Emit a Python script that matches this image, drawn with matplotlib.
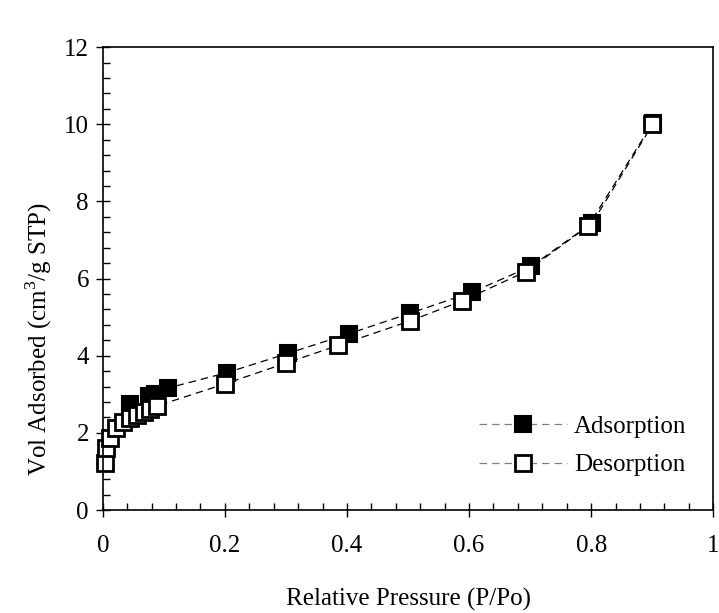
import matplotlib
matplotlib.use("Agg")
import matplotlib.pyplot as plt
from matplotlib.ticker import MultipleLocator

plt.rcParams['font.family'] = ['Liberation Serif', 'DejaVu Serif']
plt.rcParams['mathtext.fontset'] = 'custom'
plt.rcParams['mathtext.rm'] = 'Liberation Serif'

ads_x = [0.045, 0.076, 0.086, 0.106, 0.203, 0.303, 0.403, 0.503, 0.605, 0.702, 0.802, 0.902]
ads_y = [2.74, 2.96, 3.0, 3.16, 3.56, 4.06, 4.57, 5.1, 5.65, 6.32, 7.45, 10.03]

des_x = [0.003, 0.006, 0.011, 0.022, 0.033, 0.045, 0.056, 0.068, 0.078, 0.089,
         0.2, 0.3, 0.386, 0.503, 0.588, 0.693, 0.795, 0.9]
des_y = [1.22, 1.62, 1.87, 2.13, 2.27, 2.38, 2.47, 2.55, 2.62, 2.7,
         3.27, 3.81, 4.27, 4.9, 5.42, 6.18, 7.36, 10.01]

fig = plt.figure(figsize=(7.19, 6.13), dpi=100)
ax = fig.add_axes([0.143, 0.168, 0.849, 0.755])

ax.plot(ads_x, ads_y, linestyle=(0, (6, 4)), color='black', linewidth=0.9,
        marker='s', markersize=11, markerfacecolor='black', markeredgecolor='black',
        markeredgewidth=1.5, label='Adsorption', clip_on=False)
ax.plot(des_x, des_y, linestyle=(0, (6, 4)), color='black', linewidth=0.9,
        marker='s', markersize=11, markerfacecolor='white', markeredgecolor='black',
        markeredgewidth=2.0, label='Desorption', clip_on=False)

ax.set_xlim(0, 1)
ax.set_ylim(0, 12)
ax.xaxis.set_major_locator(MultipleLocator(0.2))
ax.xaxis.set_minor_locator(MultipleLocator(0.04))
ax.yaxis.set_major_locator(MultipleLocator(2))
ax.yaxis.set_minor_locator(MultipleLocator(0.4))
ax.set_xticks([0, 0.2, 0.4, 0.6, 0.8, 1])
ax.set_xticklabels(['0', '0.2', '0.4', '0.6', '0.8', '1'])

ax.tick_params(which='major', direction='inout', length=10, width=1, labelsize=18, pad=5,
               top=False, right=False)
ax.tick_params(which='minor', direction='in', length=5, width=1, top=False, right=False)
ax.tick_params(axis='x', which='major', pad=13)
for s in ax.spines.values():
    s.set_linewidth(1.2)

ax.set_xlabel('Relative Pressure (P/Po)', fontsize=18, labelpad=22)
ax.set_ylabel('Vol Adsorbed (cm$^3$/g STP)', fontsize=18)
ax.yaxis.set_label_coords(-0.08, 0.37)

leg = ax.legend(loc='lower right', bbox_to_anchor=(0.985, 0.035), frameon=False, fontsize=18,
                handlelength=3.5, handletextpad=0.3, labelspacing=0.65, borderpad=0.2)
for line in leg.get_lines():
    line.set_color('gray')
    line.set_markeredgecolor('black')

fig.savefig('out.png', dpi=100)
